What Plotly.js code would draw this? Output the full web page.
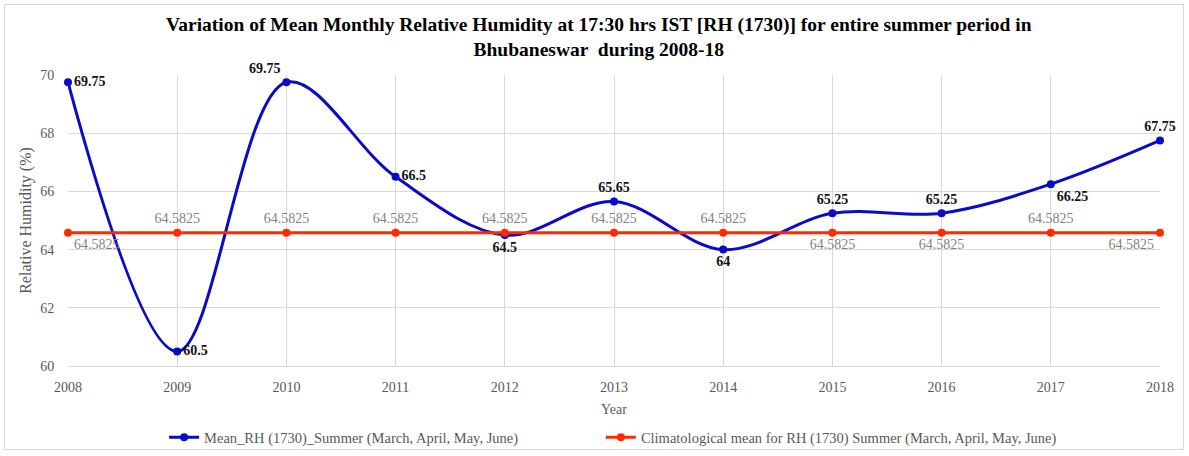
<!DOCTYPE html>
<html><head><meta charset="utf-8">
<script src="https://cdn.plot.ly/plotly-3.0.1.min.js"></script>
<style>
html,body{margin:0;padding:0;background:#fff;}
#frame{position:absolute;left:4px;top:4px;width:1180px;height:446px;border:1px solid #d9d9d9;box-sizing:border-box;}
#chart{position:absolute;left:0;top:0;width:1189px;height:456px;}
</style></head>
<body><div id="frame"></div><div id="chart"></div>
<script>
const years = [2008,2009,2010,2011,2012,2013,2014,2015,2016,2017,2018];
const meanRH = [69.75,60.5,69.75,66.5,64.5,65.65,64,65.25,65.25,66.25,67.75];
const climMean = [64.5825,64.5825,64.5825,64.5825,64.5825,64.5825,64.5825,64.5825,64.5825,64.5825,64.5825];
const meanLabels = ["69.75","60.5","69.75","66.5","64.5","65.65","64","65.25","65.25","66.25","67.75"];
const climLabels = climMean.map(v => String(v));
const meanPos = ["middle right","middle right","top left","middle right","bottom center","top center","bottom center","top center","top center","bottom right","top center"];
const climPos = ["bottom right","top center","top center","top center","top center","top center","top center","bottom center","bottom center","top center","bottom left"];
const serif = "Liberation Serif, Times New Roman, serif";
const titleText = '<b>Variation of Mean Monthly Relative Humidity at 17:30 hrs IST [RH (1730)] for entire summer period in<br>Bhubaneswar  during 2008-18</b>';

const traces = [
 {x: years, y: meanRH, type:'scatter', mode:'lines+markers+text',
  name:'Mean_RH (1730)_Summer (March, April, May, June)', legend:'legend',
  line:{color:'#0a0ac8', width:3, shape:'spline', smoothing:1},
  marker:{color:'#0a0ac8', size:8},
  text: meanLabels, textposition: meanPos,
  textfont:{family:serif, size:14, color:'#111', weight:'bold'}, cliponaxis:false},
 {x: years, y: climMean, type:'scatter', mode:'lines+markers+text',
  name:'Climatological mean for RH (1730) Summer (March, April, May, June)', legend:'legend2',
  line:{color:'#ff2a00', width:3},
  marker:{color:'#ff2a00', size:8},
  text: climLabels, textposition: climPos,
  textfont:{family:serif, size:14, color:'#7f7f7f'}, cliponaxis:false}
];

const legFont = {family:serif,size:14.5,color:'#595959'};
const layout = {
 width:1189, height:456,
 paper_bgcolor:'rgba(0,0,0,0)', plot_bgcolor:'#fff',
 margin:{l:68, r:29, t:75, b:90, autoexpand:false},
 font:{family:serif, color:'#595959', size:14},
 annotations:[{text:titleText, xref:'paper', yref:'paper', x:0.486, y:1.13, xanchor:'center', yanchor:'middle',
   showarrow:false, font:{family:serif, size:19.5, color:'#000'}}],
 xaxis:{range:[2008,2018], tickvals:years, ticktext:years.map(String), showgrid:true, gridcolor:'#d9d9d9',
   zeroline:false, showline:true, linecolor:'#d9d9d9', ticks:'outside', ticklen:8, tickcolor:'rgba(0,0,0,0)',
   tickfont:{family:serif,size:14,color:'#595959'},
   title:{text:'Year', font:{family:serif,size:14,color:'#595959'}, standoff:10}},
 yaxis:{range:[60,70], dtick:2, showgrid:true, gridcolor:'#d9d9d9', zeroline:false, showline:false,
   tickfont:{family:serif,size:14,color:'#595959'}, ticks:'outside', ticklen:10, tickcolor:'rgba(0,0,0,0)',
   title:{text:'Relative Humidity (%)', font:{family:serif,size:16,color:'#595959'}, standoff:4}},
 showlegend:true,
 legend:{orientation:'h', x:0.088, xanchor:'left', y:-0.19, yanchor:'top', font:legFont, itemwidth:30},
 legend2:{orientation:'h', x:0.488, xanchor:'left', y:-0.19, yanchor:'top', font:legFont, itemwidth:30}
};
Plotly.newPlot('chart', traces, layout, {displayModeBar:false});
</script></body></html>
